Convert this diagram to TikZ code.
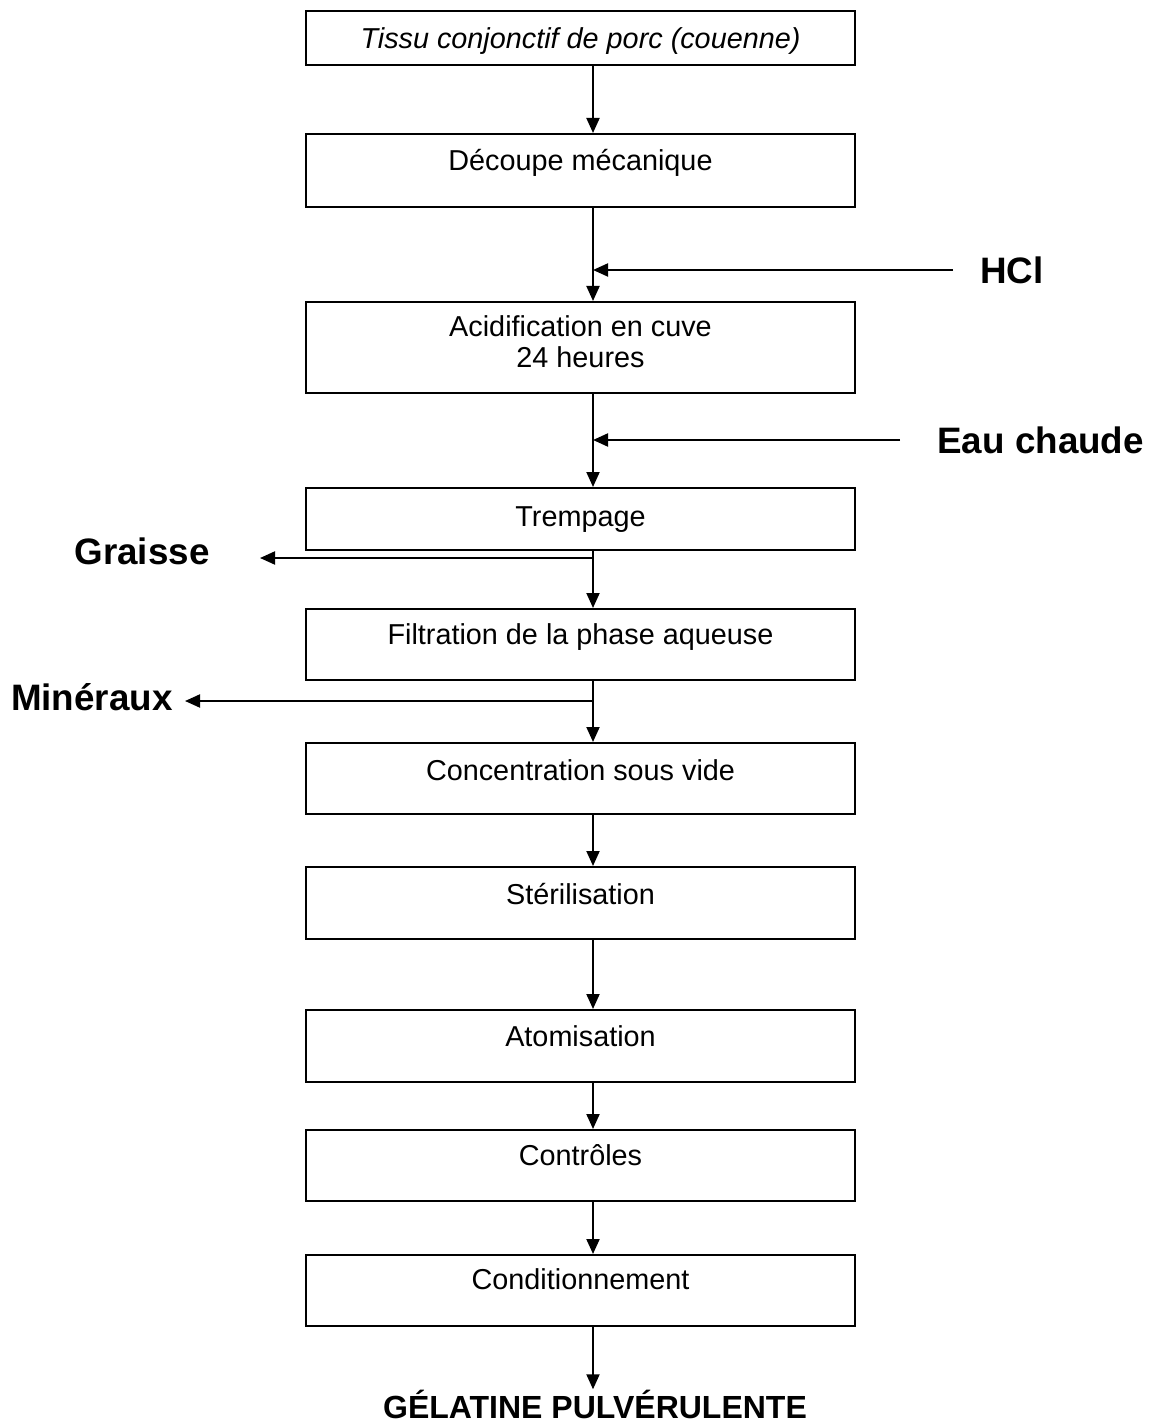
\documentclass[tikz,border=0pt]{standalone}
\usepackage{fontspec}
\setmainfont{Liberation Sans}
\usetikzlibrary{arrows.meta,calc}

\tikzset{
  stage/.style={draw,line width=0.9pt,minimum width=274.5pt,inner sep=0pt,anchor=north,
    font=\fontsize{14.4}{15.5}\selectfont},
  input/.style={inner sep=0pt,font=\bfseries\fontsize{18.4}{22}\selectfont},
  flow/.style={line width=1pt,-{Triangle[length=7.5pt,width=6.5pt]}}
}

\begin{document}
\begin{tikzpicture}[x=0.5pt,y=-0.5pt]
\useasboundingbox (0,0) rectangle (1151,1422);
\coordinate (spine) at (593,0);

% etapes
\node[stage,text height=19pt,text depth=8pt] (tissu) at (580.5,10) {\itshape Tissu conjonctif de porc (couenne)};
\node[stage,text height=18.5pt,text depth=18pt] (decoupe) at (580.5,133) {Découpe mécanique};
\node[stage,align=center,text height=33pt,text depth=12.5pt] (acid) at (580.5,301) {Acidification en cuve\\24 heures};
\node[stage,text height=19.5pt,text depth=11.5pt] (trempage) at (580.5,487) {Trempage};
\node[stage,text height=18pt,text depth=17.5pt] (filtration) at (580.5,608) {Filtration de la phase aqueuse};
\node[stage,text height=19pt,text depth=16.5pt] (concentration) at (580.5,742) {Concentration sous vide};
\node[stage,text height=19pt,text depth=17pt] (sterilisation) at (580.5,866) {Stérilisation};
\node[stage,text height=18.5pt,text depth=17.5pt] (atomisation) at (580.5,1009) {Atomisation};
\node[stage,text height=18pt,text depth=17.5pt] (controles) at (580.5,1129) {Contrôles};
\node[stage,text height=17.5pt,text depth=18pt] (conditionnement) at (580.5,1254) {Conditionnement};
\node[inner sep=0pt,font=\bfseries\fontsize{16}{19}\selectfont] (gelatine) at (595,1404) {GÉLATINE PULVÉRULENTE};

% entrees et sorties
\node[input,anchor=west] (hcl) at (980,270) {HCl};
\node[input,anchor=west] (eau) at (937,440) {Eau chaude};
\node[input,anchor=east] (graisse) at (210,551) {Graisse};
\node[input,anchor=east] (mineraux) at (173,697) {Minéraux};
\coordinate (hclin) at (953,270);
\coordinate (eauin) at (900,440);
\coordinate (graisseout) at (260,558);
\coordinate (minerauxout) at (185,701);

% flux principal
\draw[flow] (tissu.south -| spine) -- (decoupe.north -| spine);
\draw[flow] (decoupe.south -| spine) -- (acid.north -| spine);
\draw[flow] (acid.south -| spine) -- (trempage.north -| spine);
\draw[flow] (trempage.south -| spine) -- (filtration.north -| spine);
\draw[flow] (filtration.south -| spine) -- (concentration.north -| spine);
\draw[flow] (concentration.south -| spine) -- (sterilisation.north -| spine);
\draw[flow] (sterilisation.south -| spine) -- (atomisation.north -| spine);
\draw[flow] (atomisation.south -| spine) -- (controles.north -| spine);
\draw[flow] (controles.south -| spine) -- (conditionnement.north -| spine);
\draw[flow] (conditionnement.south -| spine) -- (gelatine.north -| spine);

\draw[flow] (hclin) -- (hclin -| spine);
\draw[flow] (eauin) -- (eauin -| spine);
\draw[flow] (graisseout -| spine) -- (graisseout);
\draw[flow] (minerauxout -| spine) -- (minerauxout);

\end{tikzpicture}
\end{document}
